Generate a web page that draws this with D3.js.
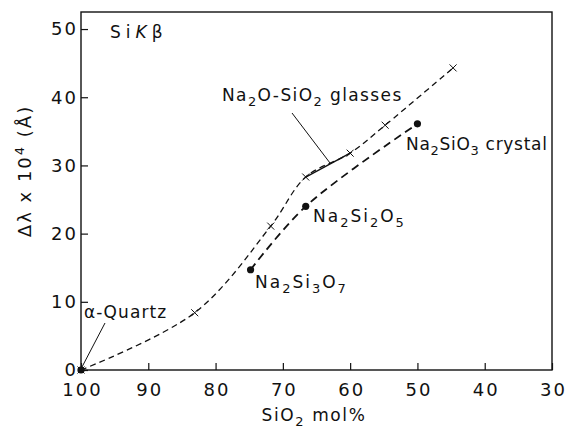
<!DOCTYPE html>
<html>
<head>
<meta charset="utf-8">
<script src="https://cdn.jsdelivr.net/npm/d3@7"></script>
<style>
  body { margin: 0; background: #fff; }
  text { font-family: "DejaVu Sans", sans-serif; fill: #111; }
</style>
</head>
<body>
<div id="chart"></div>
<script>
// Data
const xTicks = [100, 90, 80, 70, 60, 50, 40, 30];
const yTicks = [0, 10, 20, 30, 40, 50];

// Na2O-SiO2 glasses (crosses)
const glassSiO2 = [100, 83.1, 71.8, 66.6, 60.0, 54.8, 44.7];
const glassShift = [0, 8.4, 21.1, 28.3, 31.8, 35.9, 44.3];

// crystals (filled dots)
const crystalNames = ["α-Quartz", "Na2Si3O7", "Na2Si2O5", "Na2SiO3"];
const crystalSiO2 = [100, 74.8, 66.6, 50.0];
const crystalShift = [0, 14.7, 24.0, 36.1];

const width = 568, height = 428;
const margin = { top: 12, right: 16, bottom: 58, left: 81 };

const svg = d3.select("#chart").append("svg")
    .attr("width", width)
    .attr("height", height);

const x = d3.scaleLinear().domain([100, 30]).range([margin.left, width - margin.right]);
const y = d3.scaleLinear().domain([0, 52.5]).range([height - margin.bottom, margin.top]);

// frame
svg.append("rect")
    .attr("x", x(100)).attr("y", y(52.5))
    .attr("width", x(30) - x(100)).attr("height", y(0) - y(52.5))
    .attr("fill", "none").attr("stroke", "#111").attr("stroke-width", 1.4);

// axes (ticks pointing inward)
const xAxis = d3.axisBottom(x).tickValues(xTicks).tickSize(-7).tickPadding(13).tickFormat(d3.format("d"));
const gx = svg.append("g").attr("transform", `translate(0,${y(0)})`).call(xAxis);
gx.select(".domain").remove();
gx.selectAll("line").attr("stroke", "#111").attr("stroke-width", 1.2);
gx.selectAll("text").style("font-size", "18px").attr("letter-spacing", 2).attr("dx", 1).attr("fill", "#111");

const yAxis = d3.axisLeft(y).tickValues(yTicks).tickSize(-7).tickPadding(3);
const gy = svg.append("g").attr("transform", `translate(${x(100)},0)`).call(yAxis);
gy.select(".domain").remove();
gy.selectAll("line").attr("stroke", "#111").attr("stroke-width", 1.2);
gy.selectAll("text").style("font-size", "18px").attr("letter-spacing", 2).attr("fill", "#111");

// axis titles
const xt = svg.append("text")
    .attr("x", 314).attr("y", 421)
    .attr("text-anchor", "middle")
    .attr("letter-spacing", 1.6)
    .style("font-size", "17px");
xt.append("tspan").text("SiO");
xt.append("tspan").attr("dy", 5).style("font-size", "13px").text("2");
xt.append("tspan").attr("dy", -5).text(" mol%");

svg.append("text")
    .attr("transform", "translate(31,171) rotate(-90)")
    .attr("text-anchor", "middle")
    .attr("letter-spacing", 2)
    .style("font-size", "18px")
    .text("Δλ x 10")
    .append("tspan").attr("dy", -7).style("font-size", "13px").text("4")
    .clone(true).attr("dy", 7).style("font-size", "18px").text(" (Å)");

// SiKβ
const sk = svg.append("text").attr("x", 110).attr("y", 38)
    .attr("letter-spacing", 5).style("font-size", "17px");
sk.append("tspan").text("Si");
sk.append("tspan").style("font-style", "italic").text("K");
sk.append("tspan").text("β");

// curves
const glass = glassSiO2.map((d, i) => [d, glassShift[i]]);
const crystal = crystalSiO2.map((d, i) => [d, crystalShift[i]]);

const line = d3.line().x(d => x(d[0])).y(d => y(d[1])).curve(d3.curveCatmullRom.alpha(0.5));

svg.append("path")
    .datum(glass)
    .attr("d", line)
    .attr("fill", "none").attr("stroke", "#111")
    .attr("stroke-width", 1.3).attr("stroke-dasharray", "6,4");

// solid section between 66.6 and 60 mol%
svg.append("path")
    .datum(glass.slice(3, 5))
    .attr("d", d3.line().x(d => x(d[0])).y(d => y(d[1])))
    .attr("fill", "none").attr("stroke", "#111").attr("stroke-width", 1.4);

svg.append("path")
    .datum(crystal.slice(1))
    .attr("d", line)
    .attr("fill", "none").attr("stroke", "#111")
    .attr("stroke-width", 1.8).attr("stroke-dasharray", "8,5");

// cross markers
svg.selectAll(".cross")
    .data(glass)
    .join("path")
    .attr("class", "cross")
    .attr("d", d => {
        const cx = x(d[0]), cy = y(d[1]), s = 3.5;
        return `M${cx - s},${cy - s}L${cx + s},${cy + s}M${cx - s},${cy + s}L${cx + s},${cy - s}`;
    })
    .attr("stroke", "#111").attr("stroke-width", 1);

// dots
svg.selectAll(".dot")
    .data(crystal)
    .join("circle")
    .attr("class", "dot")
    .attr("cx", d => x(d[0])).attr("cy", d => y(d[1]))
    .attr("r", 3.6).attr("fill", "#111");

// labels with subscripts
function chem(tx, ty, parts, ls) {
    const t = svg.append("text").attr("x", tx).attr("y", ty)
        .attr("letter-spacing", ls).style("font-size", "17px");
    let sub = false;
    parts.forEach(p => {
        const isSub = /^\d$/.test(p);
        const ts = t.append("tspan").text(p);
        if (isSub) ts.style("font-size", "13px");
        if (isSub && !sub) ts.attr("dy", 5);
        else if (!isSub && sub) ts.attr("dy", -5);
        sub = isSub;
    });
    return t;
}

svg.append("text").attr("x", 84).attr("y", 318)
    .attr("letter-spacing", 1.1).style("font-size", "17px").text(crystalNames[0]);
chem(255, 288, ["Na", "2", "Si", "3", "O", "7"], 2);
chem(313, 222, ["Na", "2", "Si", "2", "O", "5"], 2);
chem(406, 150, ["Na", "2", "SiO", "3", " crystal"], 0.7);
chem(222, 101, ["Na", "2", "O-SiO", "2", "  glasses"], 1.4);

// leader lines
svg.append("line").attr("x1", 105).attr("y1", 323).attr("x2", x(100) + 1).attr("y2", y(0) - 3)
    .attr("stroke", "#111").attr("stroke-width", 1);
svg.append("line").attr("x1", 292).attr("y1", 113).attr("x2", 330).attr("y2", 163)
    .attr("stroke", "#111").attr("stroke-width", 1);
</script>
</body>
</html>
